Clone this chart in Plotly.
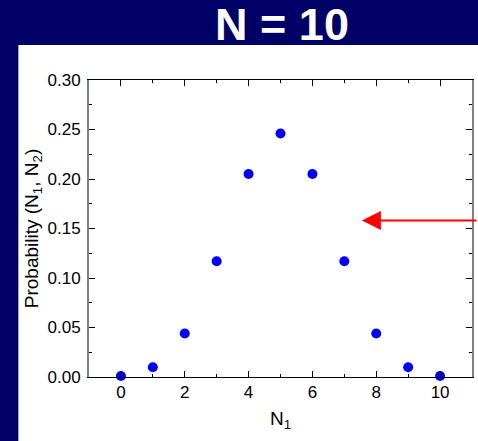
import plotly.graph_objects as go

n1 = [0, 1, 2, 3, 4, 5, 6, 7, 8, 9, 10]
prob = [0.001, 0.0098, 0.044, 0.117, 0.205, 0.246, 0.205, 0.117, 0.044, 0.0098, 0.001]
x_ticks = [0, 2, 4, 6, 8, 10]
y_ticks = [0.00, 0.05, 0.10, 0.15, 0.20, 0.25, 0.30]
y_tick_text = ["0.00", "0.05", "0.10", "0.15", "0.20", "0.25", "0.30"]

NAVY = "#000066"
FONT = "Liberation Sans, Arial, sans-serif"

fig = go.Figure()
fig.add_trace(go.Scatter(
    x=n1, y=prob, mode="markers",
    marker=dict(color="#0000ff", size=10, line=dict(width=0)),
    cliponaxis=False, showlegend=False,
))

W, H = 478, 441
L, R, T, B = 89, 4, 80, 64
pw, ph = W - L - R, H - T - B

def px_to_paper_x(px):
    return (px - L) / pw

def py_to_paper_y(py):
    return (H - B - py) / ph

# white panel
fig.add_shape(type="rect", xref="paper", yref="paper",
              x0=px_to_paper_x(18), x1=px_to_paper_x(490),
              y0=py_to_paper_y(460), y1=py_to_paper_y(45),
              fillcolor="white", line=dict(width=0), layer="below")

fig.update_layout(
    width=W, height=H,
    margin=dict(l=L, r=R, t=T, b=B),
    paper_bgcolor=NAVY, plot_bgcolor="white",
    font=dict(family=FONT, color="black", size=17),
    title=dict(text="<b>N = 10</b>", x=282 / W, xanchor="center",
               y=1 - 24 / H, yanchor="middle",
               font=dict(family=FONT, size=45, color="white")),
    xaxis=dict(range=[-1, 11], tickvals=x_ticks, ticks="inside", ticklen=6,
               tickcolor="black", showline=True, linecolor="black", linewidth=1,
               mirror="ticks", showgrid=False, zeroline=False,
               minor=dict(ticks="inside", ticklen=3, dtick=1, tickcolor="black", showgrid=False),
               tickfont=dict(size=17),
               title=dict(text="N<sub>1</sub>", font=dict(size=19), standoff=10)),
    yaxis=dict(range=[0, 0.30], tickvals=y_ticks, ticktext=y_tick_text, ticks="inside",
               ticklen=6, tickcolor="black", showline=True, linecolor="#808080", linewidth=2,
               mirror="ticks", showgrid=False, zeroline=False, ticklabelstandoff=3,
               minor=dict(ticks="inside", ticklen=3, dtick=0.025, tickcolor="black", showgrid=False),
               tickfont=dict(size=17),
               title=dict(text="Probability (N<sub>1</sub>, N<sub>2</sub>)", font=dict(size=19), standoff=4)),
)

# red arrow
fig.add_annotation(x=7.55, y=0.158, xref="x", yref="y",
                   ax=118, ay=0, axref="pixel", ayref="pixel",
                   showarrow=True, arrowhead=2, arrowsize=1.9, arrowwidth=2,
                   arrowcolor="red", text="")

fig.write_html("out.html", config={"displayModeBar": False},
               post_script="document.body.style.margin='0';document.body.style.overflow='hidden';")
